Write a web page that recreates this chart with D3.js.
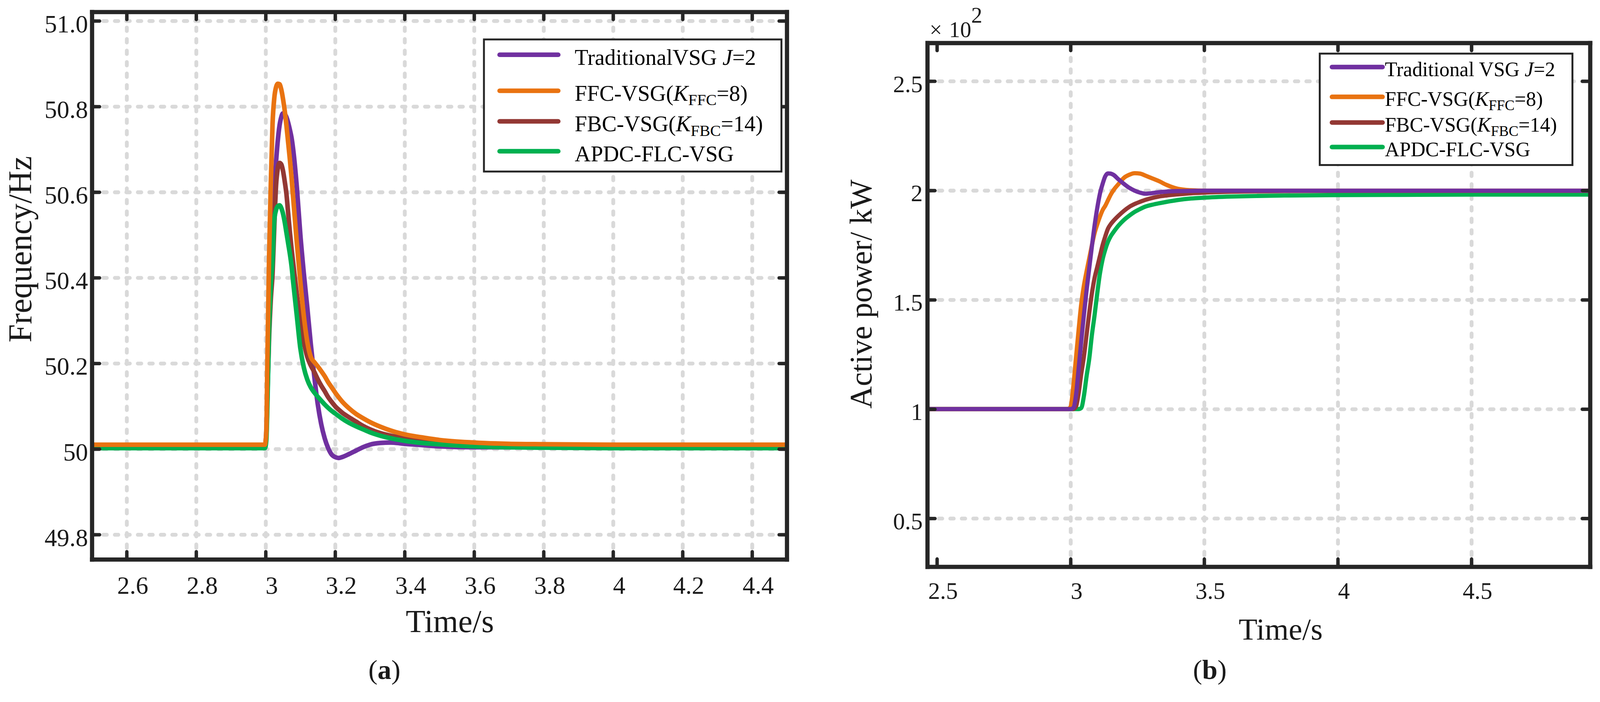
<!DOCTYPE html>
<html>
<head>
<meta charset="utf-8">
<script src="https://cdn.jsdelivr.net/npm/d3@7"></script>
<style>
  html, body { margin: 0; padding: 0; background: #fff; overflow: hidden; }
  #chart svg { display: block; width: 100vw; height: 100vh; }
  text { font-family: "Liberation Serif", "Times New Roman", serif; fill: #1a1a1a; }
</style>
</head>
<body>
<div id="chart"></div>
<script>
// ---- data ----
// (a) frequency, Hz
var freqTime = [2.5, 2.998, 3.002, 3.005, 3.01, 3.015, 3.02, 3.025, 3.03, 3.035, 3.04, 3.045, 3.05, 3.055, 3.06, 3.065, 3.07, 3.075, 3.08, 3.09,
  3.1, 3.11, 3.12, 3.13, 3.14, 3.15, 3.16, 3.17, 3.18, 3.19, 3.2, 3.21, 3.22, 3.24, 3.26, 3.28, 3.3, 3.33, 3.36, 3.4,
  3.45, 3.5, 3.6, 3.7, 3.8, 4.0, 4.25, 4.5];
var freqTraditional = [50.008, 50.008, 50.04, 50.15, 50.33, 50.46, 50.54, 50.61, 50.67, 50.72, 50.755, 50.775, 50.784, 50.782, 50.775, 50.762, 50.745, 50.725, 50.695, 50.61,
  50.5, 50.41, 50.33, 50.245, 50.17, 50.105, 50.058, 50.025, 50.002, 49.987, 49.981, 49.979, 49.981, 49.988, 49.996, 50.004, 50.01, 50.014, 50.015, 50.012,
  50.009, 50.006, 50.004, 50.004, 50.004, 50.004, 50.004, 50.004];
var freqFFC = [50.01, 50.01, 50.04, 50.2, 50.45, 50.62, 50.76, 50.82, 50.845, 50.853, 50.852, 50.84, 50.818, 50.79, 50.755, 50.715, 50.675, 50.63, 50.58, 50.48,
  50.39, 50.31, 50.25, 50.215, 50.203, 50.193, 50.182, 50.17, 50.156, 50.144, 50.132, 50.121, 50.111, 50.095, 50.082, 50.072, 50.063, 50.052, 50.043, 50.034,
  50.027, 50.021, 50.015, 50.012, 50.011, 50.01, 50.01, 50.01];
var freqFBC = [50.008, 50.008, 50.03, 50.12, 50.26, 50.35, 50.41, 50.52, 50.615, 50.655, 50.668, 50.665, 50.65, 50.625, 50.595, 50.55, 50.505, 50.465, 50.43, 50.36,
  50.3, 50.25, 50.215, 50.195, 50.18, 50.163, 50.148, 50.135, 50.121, 50.11, 50.1, 50.092, 50.085, 50.074, 50.064, 50.054, 50.046, 50.037, 50.031, 50.025,
  50.019, 50.015, 50.01, 50.008, 50.007, 50.007, 50.007, 50.007];
var freqAPDC = [50.002, 50.002, 50.02, 50.1, 50.28, 50.38, 50.44, 50.535, 50.558, 50.567, 50.569, 50.563, 50.55, 50.53, 50.505, 50.48, 50.455, 50.425, 50.385, 50.31,
  50.235, 50.19, 50.162, 50.144, 50.132, 50.122, 50.113, 50.104, 50.096, 50.089, 50.083, 50.077, 50.071, 50.061, 50.053, 50.046, 50.039, 50.031, 50.025, 50.019,
  50.014, 50.011, 50.006, 50.004, 50.003, 50.002, 50.002, 50.002];

// (b) active power, x10^2 kW
var powerTime = [2.46, 2.99, 3.0, 3.01, 3.02, 3.03, 3.04, 3.05, 3.06, 3.07, 3.08, 3.09, 3.1, 3.11, 3.12, 3.13, 3.14, 3.15, 3.16, 3.18,
  3.2, 3.22, 3.24, 3.26, 3.28, 3.3, 3.33, 3.36, 3.4, 3.45, 3.5, 3.6, 3.7, 3.8, 4.0, 4.3, 4.6, 4.94];
var powerTraditional = [1, 1, 1, 1.005, 1.06, 1.18, 1.31, 1.43, 1.543, 1.645, 1.745, 1.84, 1.92, 1.985, 2.03, 2.065, 2.078, 2.077, 2.072, 2.05,
  2.03, 2.012, 1.999, 1.99, 1.985, 1.987, 1.992, 1.995, 1.997, 1.998, 1.999, 1.999, 1.999, 1.999, 1.999, 1.999, 1.999, 1.999];
var powerFFC = [1, 1, 1.01, 1.1, 1.23, 1.36, 1.48, 1.565, 1.63, 1.69, 1.75, 1.805, 1.845, 1.88, 1.91, 1.93, 1.955, 1.98, 2.0, 2.03,
  2.058, 2.072, 2.079, 2.077, 2.068, 2.058, 2.043, 2.025, 2.008, 2.001, 1.999, 1.999, 1.999, 1.999, 1.999, 1.999, 1.999, 1.999];
var powerFBC = [1, 1, 1, 1, 1.01, 1.07, 1.16, 1.24, 1.34, 1.44, 1.53, 1.6, 1.65, 1.7, 1.75, 1.79, 1.825, 1.845, 1.86, 1.885,
  1.907, 1.925, 1.938, 1.948, 1.957, 1.964, 1.972, 1.977, 1.982, 1.987, 1.99, 1.994, 1.996, 1.997, 1.998, 1.998, 1.998, 1.998];
var powerAPDC = [1, 1, 1, 1, 1, 1, 1.005, 1.06, 1.15, 1.23, 1.34, 1.43, 1.53, 1.62, 1.685, 1.73, 1.765, 1.79, 1.808, 1.84,
  1.865, 1.885, 1.902, 1.915, 1.926, 1.933, 1.941, 1.948, 1.956, 1.963, 1.967, 1.972, 1.975, 1.977, 1.979, 1.98, 1.981, 1.981];

// ticks
var freqXTicks = [2.6, 2.8, 3, 3.2, 3.4, 3.6, 3.8, 4, 4.2, 4.4];
var freqXTickLabels = ["2.6", "2.8", "3", "3.2", "3.4", "3.6", "3.8", "4", "4.2", "4.4"];
var freqYTicks = [49.8, 50, 50.2, 50.4, 50.6, 50.8, 51.0];
var freqYTickLabels = ["49.8", "50", "50.2", "50.4", "50.6", "50.8", "51.0"];
var powerXTicks = [2.5, 3, 3.5, 4, 4.5];
var powerXTickLabels = ["2.5", "3", "3.5", "4", "4.5"];
var powerXGrid = [3, 3.5, 4, 4.5];
var powerYTicks = [0.5, 1, 1.5, 2, 2.5];
var powerYTickLabels = ["0.5", "1", "1.5", "2", "2.5"];

// legend text pieces (i = italic, s = subscript)
var legendA = [
  [{t: "TraditionalVSG "}, {t: "J", i: 1}, {t: "=2"}],
  [{t: "FFC-VSG("}, {t: "K", i: 1}, {t: "FFC", s: 1}, {t: "=8)"}],
  [{t: "FBC-VSG("}, {t: "K", i: 1}, {t: "FBC", s: 1}, {t: "=14)"}],
  [{t: "APDC-FLC-VSG"}]
];
var legendB = [
  [{t: "Traditional VSG "}, {t: "J", i: 1}, {t: "=2"}],
  [{t: "FFC-VSG("}, {t: "K", i: 1}, {t: "FFC", s: 1}, {t: "=8)"}],
  [{t: "FBC-VSG("}, {t: "K", i: 1}, {t: "FBC", s: 1}, {t: "=14)"}],
  [{t: "APDC-FLC-VSG"}]
];

var colors = {trad: "#7030a0", ffc: "#e97311", fbc: "#933834", apdc: "#00b050"};
var axisColor = "#262626";
var gridColor = "#d9d9d9";

var svg = d3.select("#chart").append("svg")
  .attr("viewBox", "0 0 4179 1797")
  .attr("preserveAspectRatio", "xMinYMin meet");

function drawPanel(p) {
  var x = d3.scaleLinear().domain(p.xDomain).range([p.left, p.right]);
  var y = d3.scaleLinear().domain(p.yDomain).range([p.bottom, p.top]);
  var w = p.right - p.left, h = p.bottom - p.top;

  // grid
  var gx = svg.append("g")
    .attr("transform", `translate(0,${p.bottom})`)
    .call(d3.axisBottom(x).tickValues(p.xGrid).tickSize(-h).tickFormat(""));
  var gy = svg.append("g")
    .attr("transform", `translate(${p.left},0)`)
    .call(d3.axisLeft(y).tickValues(p.yTicks).tickSize(-w).tickFormat(""));
  [gx, gy].forEach(function (g) {
    g.select(".domain").remove();
    g.selectAll("text").remove();
    g.selectAll("line")
      .attr("stroke", gridColor)
      .attr("stroke-width", 10)
      .attr("stroke-linecap", "round")
      .attr("stroke-dasharray", "9,21");
  });

  // clip
  var clipId = "clip-" + p.name;
  svg.append("clipPath").attr("id", clipId)
    .append("rect")
    .attr("x", p.left).attr("y", p.top)
    .attr("width", w).attr("height", h);

  var line = d3.line()
    .x(d => x(d[0]))
    .y(d => y(d[1]))
    .curve(d3.curveMonotoneX);

  var lines = svg.append("g").attr("clip-path", `url(#${clipId})`);
  p.series.forEach(function (s) {
    lines.append("path")
      .datum(d3.zip(p.time, s.values))
      .attr("fill", "none")
      .attr("stroke", colors[s.key])
      .attr("stroke-width", p.lineWidth)
      .attr("stroke-linejoin", "round")
      .attr("stroke-linecap", "round")
      .attr("d", line);
  });

  // box axes, ticks pointing inward, no axis text
  var axB = svg.append("g").attr("transform", `translate(0,${p.bottom})`)
    .call(d3.axisBottom(x).tickValues(p.xTicks).tickSizeInner(-20).tickSizeOuter(0));
  var axT = svg.append("g").attr("transform", `translate(0,${p.top})`)
    .call(d3.axisTop(x).tickValues(p.xTicks).tickSizeInner(-20).tickSizeOuter(0));
  var axL = svg.append("g").attr("transform", `translate(${p.left},0)`)
    .call(d3.axisLeft(y).tickValues(p.yTicks).tickSizeInner(-20).tickSizeOuter(0));
  var axR = svg.append("g").attr("transform", `translate(${p.right},0)`)
    .call(d3.axisRight(y).tickValues(p.yTicks).tickSizeInner(-20).tickSizeOuter(0));

  [axB, axT, axL, axR].forEach(function (g) {
    g.selectAll("text").remove();
    g.select(".domain")
      .attr("stroke", axisColor)
      .attr("stroke-width", 11)
      .attr("stroke-linecap", "square");
    g.selectAll(".tick line")
      .attr("stroke", axisColor)
      .attr("stroke-width", 9)
      .attr("stroke-linecap", "round");
  });

  // tick labels, placed with the same scales
  svg.append("g").selectAll("text")
    .data(p.xTicks)
    .join("text")
    .attr("x", d => x(d) + 16)
    .attr("y", p.bottom + p.xLabelOffset)
    .attr("text-anchor", "middle")
    .attr("font-size", p.tickFont)
    .text((d, i) => p.xLabels[i]);
  svg.append("g").selectAll("text")
    .data(p.yTicks)
    .join("text")
    .attr("x", p.left + p.yLabelX)
    .attr("y", d => y(d))
    .attr("dy", "0.46em")
    .attr("text-anchor", "end")
    .attr("font-size", p.tickFont)
    .text((d, i) => p.yLabels[i]);

  // axis titles
  svg.append("text")
    .attr("transform", `translate(${p.yTitle.x},${p.yTitle.y}) rotate(-90)`)
    .attr("text-anchor", "middle")
    .attr("font-size", p.yTitle.size)
    .text(p.yTitle.text);
  svg.append("text")
    .attr("x", p.xTitle.x).attr("y", p.xTitle.y)
    .attr("text-anchor", "middle")
    .attr("font-size", p.xTitle.size)
    .text("Time/s");

  var cap = svg.append("text")
    .attr("x", p.caption.x).attr("y", p.caption.y)
    .attr("text-anchor", "middle")
    .attr("font-size", 72);
  cap.append("tspan").text("(");
  cap.append("tspan").attr("font-weight", "bold").text(p.caption.letter);
  cap.append("tspan").text(")");

  // legend
  var lg = p.legend;
  svg.append("rect")
    .attr("x", lg.x).attr("y", lg.y)
    .attr("width", lg.w).attr("height", lg.h)
    .attr("fill", "#fff")
    .attr("stroke", axisColor)
    .attr("stroke-width", 5);
  lg.keys.forEach(function (key, i) {
    var ry = lg.rows[i];
    svg.append("line")
      .attr("x1", lg.lineX0).attr("x2", lg.lineX1)
      .attr("y1", ry).attr("y2", ry)
      .attr("stroke", colors[key])
      .attr("stroke-width", 12)
      .attr("stroke-linecap", "round");
    var t = svg.append("text")
      .attr("x", lg.textX).attr("y", ry + lg.baseline)
      .attr("font-size", lg.font)
      .style("fill", "#000");
    lg.labels[i].forEach(function (part, j) {
      var ts = t.append("tspan").text(part.t);
      if (part.i) ts.attr("font-style", "italic");
      if (part.s) {
        ts.attr("font-size", lg.font * 0.72).attr("dy", lg.font * 0.2);
      } else if (j > 0 && lg.labels[i][j - 1].s) {
        ts.attr("dy", -lg.font * 0.2);
      }
    });
  });
}

drawPanel({
  name: "a",
  left: 240, right: 2055, top: 31, bottom: 1461,
  xDomain: [2.5, 4.5], yDomain: [49.742, 51.021],
  xTicks: freqXTicks, xLabels: freqXTickLabels, xGrid: freqXTicks,
  yTicks: freqYTicks, yLabels: freqYTickLabels,
  tickFont: 65, xLabelOffset: 90, yLabelX: -10,
  lineWidth: 12,
  time: freqTime,
  series: [
    {key: "trad", values: freqTraditional},
    {key: "fbc", values: freqFBC},
    {key: "apdc", values: freqAPDC},
    {key: "ffc", values: freqFFC}
  ],
  yTitle: {text: "Frequency/Hz", x: 82, y: 651, size: 86},
  xTitle: {x: 1175, y: 1651, size: 84},
  caption: {letter: "a", x: 1004, y: 1773},
  legend: {
    x: 1264, y: 103, w: 777, h: 345,
    rows: [143, 237, 317, 395],
    lineX0: 1305, lineX1: 1458, textX: 1501, font: 58, baseline: 26,
    keys: ["trad", "ffc", "fbc", "apdc"], labels: legendA
  }
});

drawPanel({
  name: "b",
  left: 2422, right: 4153, top: 112, bottom: 1480,
  xDomain: [2.464, 4.944], yDomain: [0.279, 2.675],
  xTicks: powerXTicks, xLabels: powerXTickLabels, xGrid: powerXGrid,
  yTicks: powerYTicks, yLabels: powerYTickLabels,
  tickFont: 62, xLabelOffset: 84, yLabelX: -12,
  lineWidth: 11,
  time: powerTime,
  series: [
    {key: "apdc", values: powerAPDC},
    {key: "fbc", values: powerFBC},
    {key: "ffc", values: powerFFC},
    {key: "trad", values: powerTraditional}
  ],
  yTitle: {text: "Active power/ kW", x: 2276, y: 768, size: 81},
  xTitle: {x: 3345, y: 1670, size: 80},
  caption: {letter: "b", x: 3160, y: 1773},
  legend: {
    x: 3447, y: 140, w: 660, h: 291,
    rows: [175, 253, 320, 384],
    lineX0: 3479, lineX1: 3611, textX: 3617, font: 53, baseline: 24,
    keys: ["trad", "ffc", "fbc", "apdc"], labels: legendB
  }
});

// x10^2 multiplier above panel (b)
var mult = svg.append("text")
  .attr("x", 2428).attr("y", 97)
  .attr("font-size", 58);
mult.append("tspan").text("\u00d7");
mult.append("tspan").attr("dx", 18).text("10");
mult.append("tspan").attr("dy", -38).text("2");
</script>
</body>
</html>
